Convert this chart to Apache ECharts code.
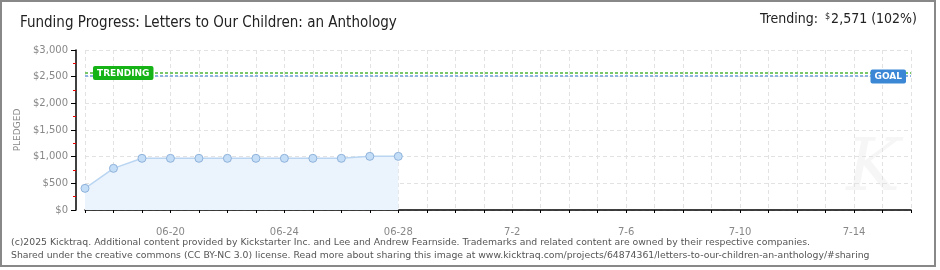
<!DOCTYPE html>
<html><head><meta charset="utf-8">
<script src="https://cdn.jsdelivr.net/npm/echarts@6/dist/echarts.min.js"></script>
<style>html,body{margin:0;padding:0;background:#fff}#c{width:940px;height:270px}</style>
</head><body><div id="c"></div>
<script>
const titleText = 'Funding Progress: Letters to Our Children: an Anthology';
const categories = ['06-17','06-18','06-19','06-20','06-21','06-22','06-23','06-24','06-25','06-26','06-27','06-28','06-29','06-30','7-1','7-2','7-3','7-4','7-5','7-6','7-7','7-8','7-9','7-10','7-11','7-12','7-13','7-14','7-15','7-16'];
const pledged = [406, 781, 969, 969, 969, 969, 969, 969, 969, 969, 1006, 1006];
const trendingValue = 2571;
const goalValue = 2520;
const trendingPct = 102;
const footer1 = '(c)2025 Kicktraq. Additional content provided by Kickstarter Inc. and Lee and Andrew Fearnside. Trademarks and related content are owned by their respective companies.';
const footer2 = 'Shared under the creative commons (CC BY-NC 3.0) license. Read more about sharing this image at www.kicktraq.com/projects/64874361/letters-to-our-children-an-anthology/#sharing';

const chart = echarts.init(document.getElementById('c'), null, {renderer: 'canvas'});
const fmt = v => '$' + v.toString().replace(/\B(?=(\d{3})+(?!\d))/g, ',');
const gridLine = {show: true, lineStyle: {color: '#e2e2e2', type: [4, 3], width: 1}};
const sans = '"Liberation Sans Narrow", "DejaVu Sans Condensed", sans-serif';
chart.setOption({
  animation: false,
  backgroundColor: '#fff',
  grid: {left: 85, right: 29, top: 50, bottom: 60},
  xAxis: {
    type: 'category', data: categories, boundaryGap: false, offset: 11,
    axisLine: {lineStyle: {color: '#000', width: 1.5}},
    axisTick: {show: true, interval: 0, length: 3, lineStyle: {color: '#000'}},
    axisLabel: {interval: i => (i - 3) % 4 === 0 && i >= 3, color: '#888', fontSize: 10, fontFamily: 'DejaVu Sans', margin: 6},
    splitLine: Object.assign({interval: 0}, gridLine)
  },
  yAxis: {
    type: 'value', min: 0, max: 3000, interval: 500, offset: 9,
    name: 'PLEDGED', nameLocation: 'middle', nameGap: 50, nameRotate: 90,
    nameTextStyle: {color: '#888', fontSize: 9, fontFamily: 'DejaVu Sans'},
    axisLine: {show: true, lineStyle: {color: '#000', width: 1.5}},
    axisTick: {show: true, length: 5, lineStyle: {color: '#000'}},
    minorTick: {show: true, splitNumber: 2, length: 3, lineStyle: {color: '#e00'}},
    axisLabel: {formatter: fmt, color: '#888', fontSize: 10, fontFamily: 'DejaVu Sans', margin: 8},
    splitLine: gridLine
  },
  series: [{
    type: 'line', data: pledged, symbol: 'circle', symbolSize: 8,
    itemStyle: {color: '#c5def8', borderColor: '#8fb2da', borderWidth: 1},
    lineStyle: {color: '#b9d5f2', width: 1.5},
    areaStyle: {color: '#ebf3fc', opacity: 1},
    markLine: {
      silent: true, symbol: 'none', animation: false,
      data: [
        {yAxis: trendingValue, lineStyle: {color: '#78c86a', type: [3, 2], width: 2},
          label: {show: true, position: 'insideStartTop', formatter: 'TRENDING', distance: 0, offset: [8, 7],
            color: '#fff', backgroundColor: '#16b316', fontSize: 9, fontWeight: 'bold', fontFamily: 'DejaVu Sans', padding: [3, 4, 2, 4], borderRadius: 2}},
        {yAxis: goalValue, lineStyle: {color: '#8db2df', type: [3, 2], width: 2},
          label: {show: true, position: 'insideEndTop', formatter: 'GOAL', distance: 0, offset: [-5, 8],
            color: '#fff', backgroundColor: '#3b87d6', fontSize: 9, fontWeight: 'bold', fontFamily: 'DejaVu Sans', padding: [3, 4, 2, 4], borderRadius: 2}}
      ]
    }
  }],
  graphic: [
    {type: 'rect', shape: {x: 1, y: 1, width: 934, height: 265}, style: {fill: 'none', stroke: '#888', lineWidth: 2}, z: 100},
    {type: 'text', left: 20, top: 16, style: {text: titleText, fill: '#222', font: '15px ' + sans}},
    {type: 'text', right: 23, top: 12, style: {
      text: '{a|Trending: }{s|$}{a|2,571 (' + trendingPct + '%)}',
      rich: {a: {fill: '#222', font: '14px ' + sans},
             s: {fill: '#222', font: '9px ' + sans, verticalAlign: 'top', padding: [0, 1, 5, 3]}}}},
    {type: 'text', right: 40, top: 135, style: {text: 'K', fill: '#f6f6f6', font: 'italic 72px "DejaVu Serif", serif'}, z: 0},
    {type: 'text', left: 11, top: 238, style: {text: footer1, fill: '#555', font: '9.3px "DejaVu Sans", sans-serif'}},
    {type: 'text', left: 11, top: 251, style: {text: footer2, fill: '#555', font: '9.3px "DejaVu Sans", sans-serif'}}
  ]
});
</script></body></html>
